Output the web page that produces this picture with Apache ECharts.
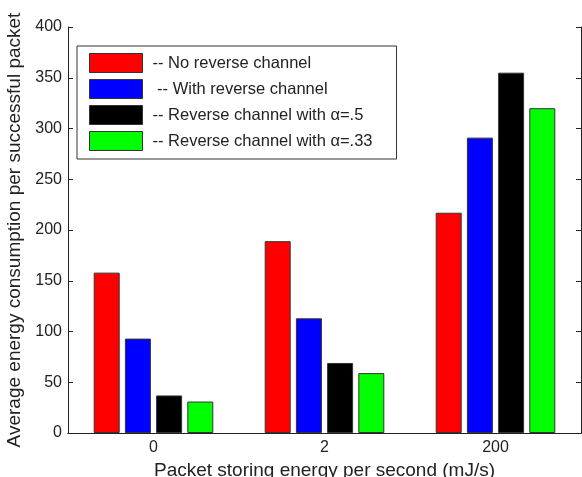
<!DOCTYPE html>
<html>
<head>
<meta charset="utf-8">
<script src="https://cdn.jsdelivr.net/npm/echarts@6/dist/echarts.min.js"></script>
<style>
  html, body { margin: 0; padding: 0; background: #fff; }
  #chart { width: 582px; height: 477px; }
</style>
</head>
<body>
<div id="chart"></div>
<script>
const categories = ['0', '2', '200'];
const seriesNames = [
  '-- No reverse channel',
  ' -- With reverse channel',
  '-- Reverse channel with \u03b1=.5',
  '-- Reverse channel with \u03b1=.33',
];
const noReverse = [158, 189, 217];
const withReverse = [93, 113, 291];
const alphaHalf = [37, 69, 355];
const alphaThird = [31, 59, 320];
const yTicks = [0, 50, 100, 150, 200, 250, 300, 350, 400];

const colors = ['#ff0000', '#0000ff', '#000000', '#00ff00'];
const values = [noReverse, withReverse, alphaHalf, alphaThird];
const font = '"Liberation Sans", Arial, sans-serif';
const lineColor = '#222';

const chart = echarts.init(document.getElementById('chart'));

const series = values.map((data, i) => ({
  name: seriesNames[i],
  type: 'bar',
  data: data,
  barWidth: 26,
  barGap: '20%',
  itemStyle: {
    color: colors[i],
    borderColor: '#333',
    borderWidth: 1,
  },
}));

chart.setOption({
  animation: false,
  grid: {
    left: 68,
    right: 1,
    top: 27,
    bottom: 44,
    outerBoundsMode: 'none',
  },
  legend: {
    orient: 'vertical',
    left: 77,
    top: 46,
    padding: [7, 24, 8, 12],
    itemWidth: 53,
    itemHeight: 19,
    itemGap: 6,
    icon: 'rect',
    borderColor: '#333',
    borderWidth: 1,
    backgroundColor: '#fff',
    textStyle: {
      fontFamily: font,
      fontSize: 16.5,
      color: '#222',
      padding: [0, 0, 0, 5],
    },
    itemStyle: {
      borderColor: '#333',
      borderWidth: 1,
    },
    data: seriesNames,
  },
  xAxis: [
    {
      type: 'category',
      data: categories,
      position: 'bottom',
      name: 'Packet storing energy per second (mJ/s)',
      nameLocation: 'middle',
      nameGap: 24,
      nameTextStyle: { fontFamily: font, fontSize: 19, color: '#222' },
      axisLine: { lineStyle: { color: lineColor } },
      axisTick: { inside: true, alignWithLabel: true, length: 5, lineStyle: { color: lineColor } },
      axisLabel: { fontFamily: font, fontSize: 16, color: '#222', margin: 7 },
    },
    {
      type: 'category',
      data: categories,
      position: 'top',
      axisLine: { lineStyle: { color: lineColor } },
      axisTick: { inside: true, alignWithLabel: true, length: 5, lineStyle: { color: lineColor } },
      axisLabel: { show: false },
    },
  ],
  yAxis: [
    {
      type: 'value',
      min: yTicks[0],
      max: yTicks[yTicks.length - 1],
      interval: 50,
      position: 'left',
      name: 'Average energy consumption per successful packet',
      nameLocation: 'middle',
      nameGap: 38,
      nameTextStyle: { fontFamily: font, fontSize: 19, color: '#222' },
      axisLine: { show: true, lineStyle: { color: lineColor } },
      axisTick: { show: true, inside: true, length: 5, lineStyle: { color: lineColor } },
      axisLabel: { fontFamily: font, fontSize: 16, color: '#222', margin: 6 },
      splitLine: { show: false },
    },
    {
      type: 'value',
      min: yTicks[0],
      max: yTicks[yTicks.length - 1],
      interval: 50,
      position: 'right',
      axisLine: { show: true, lineStyle: { color: lineColor } },
      axisTick: { show: true, inside: true, length: 5, lineStyle: { color: lineColor } },
      axisLabel: { show: false },
      splitLine: { show: false },
    },
  ],
  series: series,
});
</script>
</body>
</html>
